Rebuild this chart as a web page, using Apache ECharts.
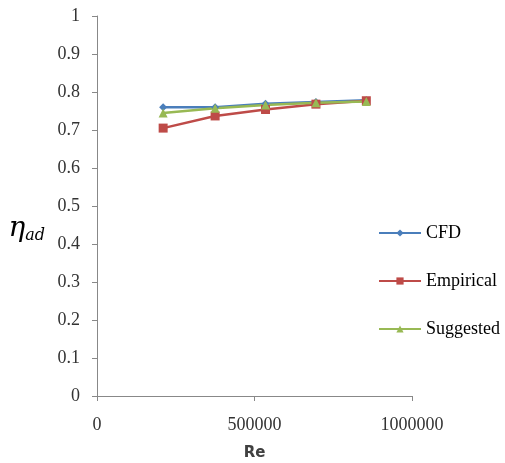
<!DOCTYPE html>
<html><head><meta charset="utf-8">
<script src="https://cdn.jsdelivr.net/npm/echarts@6/dist/echarts.min.js"></script>
<style>html,body{margin:0;padding:0;background:#fff}#c{width:505px;height:463px}</style>
</head><body><div id="c"></div>
<script>
const reValues = [210000, 375000, 535000, 695000, 855000];
const cfd = [0.760, 0.760, 0.769, 0.774, 0.778];
const empirical = [0.705, 0.737, 0.754, 0.768, 0.777];
const suggested = [0.745, 0.757, 0.766, 0.772, 0.775];
const seriesNames = ['CFD', 'Empirical', 'Suggested'];

const chart = echarts.init(document.getElementById('c'));
const pair = arr => reValues.map((x, i) => [x, arr[i]]);
const serif = "'Liberation Serif', 'Times New Roman', serif";
const labelFont = {fontFamily: serif, fontSize: 18, color: '#333'};
chart.setOption({
  animation: false,
  grid: {left: 97, right: 93, top: 16, bottom: 67, outerBoundsMode: 'none', containLabel: false},
  xAxis: {
    type: 'value', min: 0, max: 1000000, interval: 500000,
    axisLine: {lineStyle: {color: '#888', width: 1}},
    axisTick: {show: true, length: 5, lineStyle: {color: '#888'}},
    splitLine: {show: false},
    axisLabel: Object.assign({margin: 20, formatter: v => String(v)}, labelFont),
    name: 'Re', nameLocation: 'middle', nameGap: 50,
    nameTextStyle: {fontFamily: 'DejaVu Sans', fontWeight: 'bold', fontSize: 15, color: '#404040'}
  },
  yAxis: {
    type: 'value', min: 0, max: 1, interval: 0.1,
    axisLine: {show: true, lineStyle: {color: '#888', width: 1}},
    axisTick: {show: true, length: 5, lineStyle: {color: '#888'}},
    splitLine: {show: false},
    axisLabel: Object.assign({margin: 17}, labelFont),
    name: '{e|η}{s|ad}', nameLocation: 'middle', nameGap: 52, nameRotate: 0,
    nameTextStyle: {
      padding: [46, 0, 0, 0],
      rich: {
        e: {fontFamily: 'DejaVu Serif', fontStyle: 'italic', fontSize: 28, color: '#000'},
        s: {fontFamily: 'DejaVu Serif', fontStyle: 'italic', fontSize: 16, color: '#000', padding: [14, 0, 0, 0]}
      }
    }
  },
  legend: {
    orient: 'vertical', left: 373, top: 219, itemGap: 30, itemWidth: 42, itemHeight: 9,
    textStyle: {fontFamily: serif, fontSize: 18, color: '#000'},
    data: seriesNames
  },
  series: [
    {name: seriesNames[0], type: 'line', data: pair(cfd), symbol: 'diamond', symbolSize: 8,
     color: '#4a7ebb', lineStyle: {width: 2.5}},
    {name: seriesNames[1], type: 'line', data: pair(empirical), symbol: 'rect', symbolSize: 9,
     color: '#be4b48', lineStyle: {width: 2.5}},
    {name: seriesNames[2], type: 'line', data: pair(suggested), symbol: 'triangle', symbolSize: 9,
     color: '#98b954', lineStyle: {width: 2.5}}
  ]
});
</script></body></html>
